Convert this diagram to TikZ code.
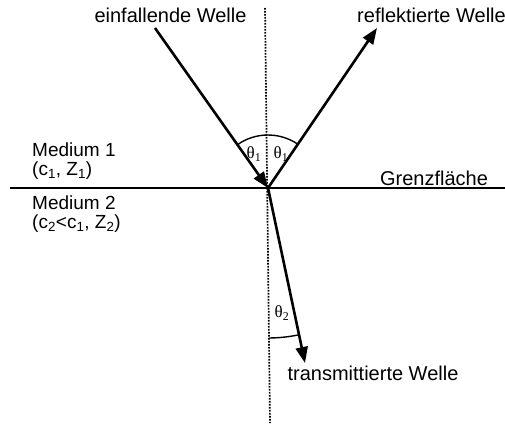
\documentclass[tikz,border=0pt]{standalone}
\usepackage{fontspec}
\setmainfont{Liberation Sans}
\newfontfamily\thetafont{Liberation Serif}
\usetikzlibrary{arrows.meta}
\tikzset{
  wave/.style={line width=2.6pt,-{Triangle[length=16pt,width=12pt]}},
  iface/.style={line width=2.8pt},
  normal/.style={line width=1.7pt,dash pattern=on 1.6pt off 1.4pt},
  anglearc/.style={line width=1.4pt},
  lbl/.style={inner sep=0pt,font=\fontsize{20}{23}\selectfont},
  medlbl/.style={inner sep=0pt,font=\fontsize{19}{22}\selectfont,anchor=base west,text height=13pt,text depth=0pt},
  parlbl/.style={inner sep=0pt,font=\fontsize{19}{22}\selectfont,anchor=base west,text height=13pt,text depth=3pt},
  ang/.style={inner sep=0pt,font=\thetafont\fontsize{17}{19}\selectfont}
}
\begin{document}
\begin{tikzpicture}[x=1pt,y=-1pt]
\useasboundingbox (0,0) rectangle (505,423);
\coordinate (O) at (268,188);
\coordinate (A) at (155,28);
\coordinate (R) at (377,28);
\coordinate (T) at (305,363);
\coordinate (N1) at (265,8);
\coordinate (N2) at (270,423);
\coordinate (L1) at (10,188);
\coordinate (L2) at (505,188);
% normal
\draw[normal] (N1) -- (N2);
% interface
\draw[iface] (L1) -- (L2);
% waves
\draw[wave] (A) -- (O);
\draw[wave] (O) -- (R);
\draw[wave] (O) -- (T);
% angle arcs
\draw[anglearc] (O) ++(234.8:53) arc[start angle=234.8,end angle=269,radius=53];
\draw[anglearc] (O) ++(269:53) arc[start angle=269,end angle=304.3,radius=53];
\draw[anglearc] (O) ++(89.5:150) arc[start angle=89.5,end angle=78,radius=150];
% angle labels
\node[ang] (t1a) at (254,154) {θ\textsubscript{1}};
\node[ang] (t1b) at (281,154) {θ\textsubscript{1}};
\node[ang] (t2) at (282,313) {θ\textsubscript{2}};
% labels
\node[lbl] (ein) at (170.5,15) {einfallende Welle};
\node[lbl] (ref) at (431.5,15) {reflektierte Welle};
\node[lbl] (gr) at (434,178) {Grenzfläche};
\node[lbl] (tr) at (373,373) {transmittierte Welle};
\node[medlbl] (m1) at (32,156) {Medium 1};
\node[parlbl] (m1p) at (32,175) {(c\textsubscript{1}, Z\textsubscript{1})};
\node[medlbl] (m2) at (32,209) {Medium 2};
\node[parlbl] (m2p) at (32,228.5) {(c\textsubscript{2}<c\textsubscript{1}, Z\textsubscript{2})};
\end{tikzpicture}
\end{document}
